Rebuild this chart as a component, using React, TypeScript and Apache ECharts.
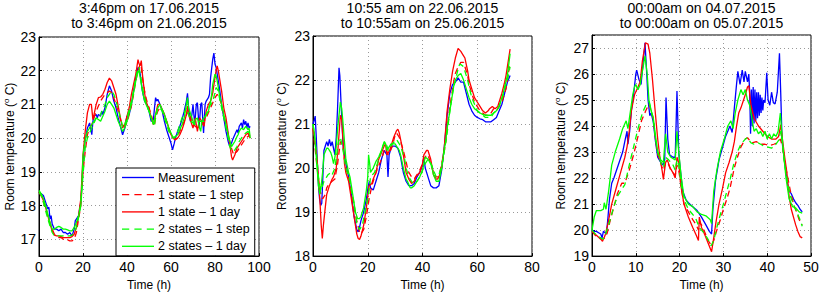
import React, { useEffect, useRef } from 'react';
import * as echarts from 'echarts';

type Pt = [number, number];

const seriesNames = ['Measurement', '1 state – 1 step', '1 state – 1 day', '2 states – 1 step', '2 states – 1 day'];
const seriesColors = ['#0000ff', '#ff0000', '#ff0000', '#00ff00', '#00ff00'];
const seriesDashed = [false, true, false, true, false];

const panelTitles = [
  '3:46pm on 17.06.2015\nto 3:46pm on 21.06.2015',
  '10:55 am on 22.06.2015\nto 10:55am on 25.06.2015',
  '00:00am on 04.07.2015\nto 00:00am on 05.07.2015',
];
const xMaxes = [100, 80, 50];
const xIntervals = [20, 20, 10];
const yMins = [16.5, 18, 19];
const yMaxes = [23, 23, 27.5];

// ---------- Panel 1 ----------
const p1Meas: Pt[] = [[0,18.4],[1,18.35],[2,18.3],[3,18.1],[4,17.9],[4.5,17.95],[5,17.6],[5.5,17.7],[6,17.45],[7,17.3],[8,17.3],[9,17.25],[10,17.3],[11,17.2],[12,17.2],[13,17.15],[14,17.2],[15,17.1],[16,17.3],[16.5,17.55],[17,17.6],[18,17.7],[19,18.1],[19.5,18.6],[20,19.3],[20.5,19.7],[21,19.95],[22,20.3],[23,20.45],[23.5,20.3],[24,20.1],[24.5,20.5],[25,20.65],[26,20.7],[26.5,20.6],[27,20.7],[28,20.65],[28.5,20.8],[29,20.7],[30,20.9],[31,21.3],[32,21.55],[33,21.4],[34,21.1],[35,20.9],[36,20.6],[37,20.35],[38,20.1],[39,20.3],[40,20.65],[41,20.7],[42,21.0],[43,21.4],[44,21.8],[45,22.1],[45.5,22.05],[46,21.9],[47,21.4],[48,21.1],[49,21.0],[50,20.8],[51,20.5],[52,20.55],[52.5,20.9],[53,21.2],[53.5,21.1],[54,21.15],[55,21.0],[56,20.8],[57,20.5],[58,20.25],[59,20.05],[60,19.85],[60.7,19.65],[61.5,19.85],[62,20.0],[63,20.2],[64,20.35],[65,20.55],[66,20.8],[67,21.1],[67.5,21.33],[68,20.9],[68.8,20.5],[69.5,20.7],[70,21.0],[70.8,20.4],[71.5,21.0],[72,21.05],[72.8,20.3],[73.5,21.0],[74,21.05],[74.8,20.15],[75.5,21.0],[76,21.1],[77,21.2],[77.5,21.3],[78,21.8],[79,22.35],[79.5,22.52],[80,22.2],[80.5,22.1],[81,21.9],[82,21.5],[83,21.0],[84,20.6],[85,20.2],[86,19.9],[86.7,19.75],[87.5,19.85],[88,19.95],[89,20.1],[90,20.25],[90.5,20.15],[91,20.35],[92,20.45],[92.5,20.3],[93,20.55],[93.5,20.4],[94,20.5],[94.5,20.3],[95,20.45],[95.5,20.3],[96,20.35]];
const p1Red1Step: Pt[] = [[0,18.4],[1,18.3],[2,18.1],[3,17.9],[4,17.7],[5,17.5],[6,17.3],[7,17.15],[8,17.1],[9,17.05],[10,17.05],[11,17.0],[12,17.0],[13,16.98],[14,16.95],[15,16.95],[16,17.0],[17,17.2],[18,17.6],[19,18.0],[19.5,18.5],[20,19.0],[21,19.6],[22,20.1],[23,20.3],[24,20.4],[25,20.6],[26,20.8],[27,20.95],[28,21.1],[29,21.2],[30,21.3],[31,21.35],[32,21.4],[33,21.35],[34,21.2],[35,21.0],[36,20.8],[37,20.55],[38,20.4],[39,20.35],[40,20.45],[41,20.7],[42,20.95],[43,21.3],[44,21.7],[45,22.0],[46,22.2],[46.5,22.1],[47,21.8],[48,21.4],[49,21.1],[50,20.9],[51,20.7],[52,20.45],[52.5,20.4],[53,20.6],[54,20.8],[55,20.9],[56,20.85],[57,20.7],[58,20.5],[59,20.3],[60,20.1],[61,20.0],[62,19.95],[63,20.05],[64,20.2],[65,20.35],[66,20.5],[67,20.7],[68,20.8],[69,20.6],[70,20.45],[71,20.35],[72,20.3],[73,20.35],[74,20.4],[75,20.5],[76,20.6],[77,20.75],[78,20.9],[79,21.05],[80,21.2],[81,21.3],[82,21.2],[83,21.0],[84,20.7],[85,20.4],[86,20.1],[87,19.8],[88,19.6],[88.5,19.5],[89,19.55],[90,19.6],[91,19.7],[92,19.8],[93,19.9],[94,20.0],[95,20.05],[96,20.1]];
const p1Red1Day: Pt[] = [[0,18.4],[1,18.3],[2,18.15],[3,17.95],[4,17.7],[5,17.45],[6,17.25],[7,17.12],[8,17.1],[9,17.1],[10,17.08],[11,17.05],[12,17.05],[13,17.05],[14,17.05],[15,17.08],[16,17.15],[17,17.35],[18,17.7],[19,18.2],[19.5,18.8],[20,19.5],[21,20.2],[22,20.75],[23,21.0],[23.8,21.0],[24.5,20.55],[25,20.7],[26,21.0],[27,21.2],[28,21.22],[29,21.3],[30,21.45],[31,21.65],[32,21.78],[33,21.7],[34,21.5],[35,21.3],[36,20.95],[37,20.6],[38,20.3],[39,20.4],[40,20.65],[41,20.9],[42,21.3],[43,21.6],[44,21.9],[45,22.33],[45.5,22.2],[46,22.15],[46.5,22.3],[47,21.9],[47.5,21.6],[48.5,21.1],[49.5,20.95],[50,20.9],[51,20.6],[52,20.4],[53,20.7],[54,21.0],[55,21.0],[56,20.85],[57,20.7],[58,20.5],[59,20.3],[60,20.1],[61,20.0],[62,19.95],[63,20.0],[64,20.1],[65,20.25],[66,20.45],[67,20.7],[67.5,20.95],[68,20.7],[69,20.5],[70,20.3],[71,20.6],[72,20.2],[73,20.6],[74,20.5],[75,20.35],[76,20.8],[77,21.0],[78,21.1],[79,21.35],[80,21.8],[80.5,22.0],[81,22.14],[81.5,22.0],[82,21.8],[83,21.4],[84,20.9],[85,20.6],[86,20.15],[87,19.7],[87.5,19.45],[88,19.35],[89,19.5],[90,19.7],[91,19.8],[92,19.9],[93,20.0],[94,20.1],[95,20.15],[96,20.0]];
const p1Green1Step: Pt[] = [[0,18.4],[1,18.3],[2,18.1],[3,17.85],[4,17.6],[5,17.4],[6,17.2],[7,17.1],[8,17.1],[9,17.1],[10,17.1],[11,17.1],[12,17.1],[13,17.1],[14,17.1],[15,17.12],[16,17.2],[17,17.35],[18,17.65],[19,18.05],[20,18.9],[20.5,19.3],[21,19.7],[22,20.0],[23,20.15],[24,20.3],[25,20.45],[26,20.6],[27,20.6],[28,20.7],[29,20.85],[30,21.0],[31,21.2],[32,21.3],[33,21.4],[34,21.3],[35,21.1],[36,20.85],[37,20.6],[38,20.35],[38.5,20.3],[39,20.4],[40,20.6],[41,20.85],[42,21.1],[43,21.4],[44,21.8],[45,22.05],[45.5,22.1],[46,21.9],[47,21.5],[48,21.2],[49,21.0],[50,20.8],[51,20.6],[52,20.45],[52.5,20.4],[53,20.6],[54,20.9],[55,20.9],[56,20.8],[57,20.6],[58,20.4],[59,20.2],[60,20.1],[61.5,20.0],[62,20.05],[63,20.2],[64,20.4],[65,20.6],[66,20.75],[67,20.9],[68,20.7],[69,20.5],[70,20.45],[71,20.4],[72,20.45],[73,20.5],[74,20.5],[75,20.5],[76,20.7],[77,20.9],[78,21.0],[79,21.1],[80,21.35],[80.5,21.5],[81,21.45],[81.5,21.4],[82,21.2],[83,20.9],[84,20.6],[85,20.3],[86,20.0],[86.5,19.8],[87,19.7],[88,19.6],[89,19.65],[90,19.75],[91,19.9],[92,20.0],[93,20.1],[94,20.15],[95,20.2],[96,20.1]];
const p1Green1Day: Pt[] = [[0,18.45],[1,18.35],[2,18.2],[3,18.0],[4,17.75],[5,17.5],[6,17.3],[7,17.3],[8,17.35],[9,17.38],[10,17.35],[11,17.3],[12,17.3],[13,17.28],[14,17.25],[15,17.25],[16,17.35],[17,17.5],[18,17.7],[19,18.0],[19.5,18.6],[20,19.5],[21,19.95],[21.5,20.1],[22,20.2],[23,20.3],[24,20.4],[25,20.5],[26,20.6],[27,20.55],[28,20.5],[29,20.65],[30,20.8],[31,21.0],[32,21.1],[33,21.0],[34,20.9],[35,20.7],[36,20.5],[37,20.35],[38,20.2],[39,20.3],[40,20.5],[41,20.75],[42,21.0],[43,21.35],[44,21.7],[45,22.0],[45.5,21.95],[46,21.8],[46.5,21.6],[47,21.4],[48,21.1],[49,20.95],[50,20.8],[51,20.6],[52,20.4],[53,20.7],[53.5,20.8],[54,20.9],[55,21.0],[56,20.85],[57,20.7],[58,20.5],[59,20.3],[60,20.15],[61,20.0],[62,20.05],[63,20.1],[64,20.25],[65,20.4],[66,20.6],[66.5,20.8],[67.5,21.2],[68,20.9],[69,20.7],[70,20.5],[70.5,20.4],[71,20.55],[72,20.6],[73,20.3],[73.5,20.2],[74,20.5],[75,20.6],[76,20.7],[77,20.8],[78,21.1],[78.5,21.3],[79,21.6],[80,21.9],[80.5,21.85],[81,21.7],[82,21.3],[83,21.0],[84,20.7],[85,20.4],[86,20.1],[87,19.85],[87.5,19.75],[88,19.8],[89,19.9],[90,20.05],[90.5,20.1],[91,20.2],[92,20.3],[93,20.25],[94,20.35],[95,20.25],[95.5,20.3],[96,20.0]];

// ---------- Panel 2 ----------
const p2Meas: Pt[] = [[0,21.0],[0.5,21.1],[0.8,21.18],[1.2,20.7],[1.6,20.1],[2,19.6],[2.4,19.3],[2.8,19.15],[3.2,19.2],[3.6,19.8],[4,20.4],[4.5,20.5],[5,20.6],[5.5,20.5],[6,20.65],[6.5,20.5],[7,20.6],[7.5,20.45],[8,20.3],[8.5,20.7],[9,21.4],[9.5,22.28],[9.8,22.1],[10.3,21.4],[11,20.5],[12,20.1],[13,19.8],[14,19.4],[15,18.9],[16,18.6],[16.5,18.55],[17,18.65],[17.5,18.8],[18.5,19.0],[19.5,19.3],[20.2,19.6],[20.6,19.7],[21,19.55],[22,19.5],[23,19.7],[24,19.9],[25,20.2],[26,20.4],[26.5,20.35],[27,20.3],[27.4,19.8],[27.8,20.3],[28.5,20.45],[29,20.5],[30,20.5],[31,20.45],[32,20.25],[33,19.9],[34,19.7],[35,19.6],[36,19.6],[37,19.65],[38,19.8],[39,19.9],[40,20.05],[40.5,20.25],[41,20.0],[42,19.8],[43,19.6],[44,19.55],[45,19.55],[46,19.6],[47,19.95],[48,20.5],[49,21.2],[50,21.7],[51,21.9],[52,21.95],[53,22.05],[54,21.95],[55,21.95],[56,21.7],[57,21.45],[58,21.3],[59,21.2],[60,21.15],[61,21.12],[62,21.1],[63,21.05],[64,21.05],[65,21.05],[66,21.1],[67,21.15],[68,21.3],[69,21.45],[70,21.7],[71,21.95],[72,22.1]];
const p2Red1Step: Pt[] = [[0,20.9],[1,20.3],[1.5,20.0],[2.5,19.5],[3.5,19.3],[4.5,19.4],[5,19.55],[6,19.65],[7,19.7],[8,19.75],[9,20.1],[10,20.6],[10.8,20.55],[11.5,20.2],[12,20.0],[13,19.8],[14,19.45],[15,19.1],[16,18.8],[17,18.55],[17.5,18.5],[18.5,18.6],[19.5,18.9],[20.5,19.3],[21.5,19.6],[22,19.7],[23,19.9],[24,20.05],[25,20.2],[26,20.4],[26.5,20.45],[27.5,20.3],[28,20.35],[29,20.5],[30,20.75],[30.5,20.8],[31.5,20.7],[32,20.6],[33,20.4],[34,20.15],[34.5,20.0],[35,19.9],[36,19.8],[37,19.75],[38,19.85],[38.5,19.9],[39,19.95],[40,20.1],[41,20.25],[41.5,20.3],[42,20.3],[43,20.1],[44,19.9],[44.5,19.8],[45,19.8],[46,19.8],[47,20.1],[48,20.4],[48.5,20.6],[49,20.9],[50,21.4],[51,21.8],[51.5,22.0],[52,22.15],[53,22.3],[54,22.4],[55,22.4],[55.5,22.3],[56.5,22.1],[57,21.9],[58,21.7],[59,21.5],[60,21.4],[61,21.3],[62,21.25],[63,21.2],[63.5,21.2],[64,21.2],[65,21.25],[66,21.35],[67,21.3],[68,21.4],[69,21.5],[70,21.7],[70.5,21.8],[71,22.0],[72,22.4]];
const p2Red1Day: Pt[] = [[0,20.9],[0.5,20.7],[1.5,20.2],[2.5,19.3],[3,18.7],[3.4,18.4],[3.8,18.7],[4.3,19.0],[5,19.4],[6,19.6],[7,19.75],[7.5,19.8],[8.5,20.0],[9.2,20.5],[10,21.2],[10.5,21.1],[10.8,20.8],[11.5,20.1],[12,19.9],[13,19.7],[14,19.3],[15,18.9],[16,18.5],[16.5,18.4],[17,18.38],[17.5,18.45],[18.5,18.7],[19.5,19.1],[20.5,19.6],[21.5,19.65],[22,19.75],[23,19.9],[24,20.2],[25,20.35],[26,20.5],[26.5,20.55],[27,20.3],[28,20.4],[29,20.6],[29.5,20.7],[30.5,20.85],[31,20.88],[31.5,20.8],[32.5,20.5],[33.5,20.1],[34,19.9],[35,19.75],[36,19.65],[37,19.7],[37.5,19.8],[39,19.9],[40,20.1],[40.5,20.3],[41.5,20.4],[42,20.4],[43,20.2],[44,19.85],[45,19.75],[45.5,19.75],[46,19.8],[47,20.0],[48,20.5],[49,21.3],[50,21.8],[50.5,22.0],[51,22.2],[52,22.5],[53,22.72],[54,22.65],[55,22.55],[55.5,22.5],[56.5,22.2],[57,22.0],[58,21.8],[59,21.6],[60,21.5],[61,21.4],[62,21.3],[63,21.25],[64,21.3],[64.5,21.35],[65.5,21.4],[66.5,21.35],[67.5,21.4],[68,21.5],[69,21.7],[70,21.95],[70.5,22.1],[71,22.3],[72,22.7]];
const p2Green1Step: Pt[] = [[0,21.0],[1,20.5],[2,19.8],[2.5,19.6],[3,19.5],[4,19.7],[5,19.8],[5.5,19.85],[6.5,19.9],[7,19.85],[8,20.0],[9.3,20.6],[10,20.7],[11,20.4],[12,20.0],[13,19.8],[13.5,19.7],[14,19.5],[15,19.2],[16,18.75],[17,18.6],[18,18.7],[19,19.0],[20,19.3],[20.5,19.5],[21,19.8],[22.5,19.9],[23,20.0],[24,20.2],[25,20.4],[25.5,20.5],[26.3,20.6],[27,20.5],[27.5,20.4],[28,20.45],[29,20.55],[30.5,20.65],[31,20.6],[32,20.5],[33,20.3],[33.5,20.2],[34,20.0],[35,19.8],[36,19.7],[36.5,19.65],[37,19.65],[38,19.7],[39,19.8],[39.5,19.85],[40,19.95],[41,20.1],[42,20.2],[43,20.1],[43.5,20.05],[44,19.95],[45,19.8],[46,19.85],[47,20.05],[47.5,20.2],[48,20.4],[49,20.8],[50,21.3],[50.5,21.5],[51,21.7],[52,22.0],[53,22.25],[53.5,22.35],[54,22.35],[55,22.3],[56,22.1],[56.5,22.0],[57,21.85],[58,21.6],[59,21.45],[60,21.3],[61,21.25],[62,21.2],[63,21.15],[64,21.15],[65,21.15],[65.5,21.2],[66,21.25],[67,21.3],[68,21.4],[68.5,21.5],[69,21.55],[70,21.8],[71,22.0],[72,22.3]];
const p2Green1Day: Pt[] = [[0,21.0],[0.5,20.8],[1,20.4],[1.5,20.0],[2,19.6],[2.5,19.4],[3,19.6],[3.5,19.9],[4,20.3],[5,20.45],[5.5,20.45],[6,20.4],[6.5,20.35],[7,20.25],[7.5,20.1],[8,20.25],[8.5,20.5],[9,20.9],[9.5,21.2],[10,21.5],[10.5,21.35],[11,21.0],[12,20.2],[13,19.9],[13.5,19.8],[14.5,19.4],[15.5,19.0],[16.3,18.85],[17,18.85],[17.5,18.9],[18.5,19.1],[19.5,19.5],[20,19.8],[20.3,20.3],[20.7,20.1],[21,19.9],[22,20.0],[23,20.15],[23.5,20.2],[24,20.25],[25,20.4],[26,20.6],[26.5,20.55],[27,20.4],[28,20.5],[28.5,20.55],[29,20.55],[30,20.55],[31,20.45],[31.5,20.4],[32,20.3],[33,20.0],[34,19.75],[34.5,19.7],[35.5,19.55],[36,19.55],[37,19.6],[38,19.7],[38.5,19.75],[39,19.8],[40,19.95],[41,20.25],[42,20.2],[43,20.1],[43.5,20.0],[44,19.85],[45,19.7],[46,19.7],[47,20.0],[48,20.45],[48.5,20.6],[49,20.9],[50,21.3],[51,21.7],[51.5,21.9],[52,22.0],[53,22.1],[54,22.15],[55,22.0],[55.5,21.9],[56,21.8],[57,21.6],[58,21.45],[59,21.35],[60,21.3],[61,21.25],[62,21.22],[63,21.2],[64,21.2],[65,21.2],[66,21.25],[67,21.3],[68,21.4],[69,21.6],[69.5,21.7],[70,21.85],[71,22.1],[72,22.6]];

// ---------- Panel 3 ----------
const p3Meas: Pt[] = [[0,20.0],[0.5,19.95],[1,19.95],[1.5,19.9],[2,19.85],[2.3,19.7],[2.6,19.95],[3,19.9],[3.3,19.85],[3.6,20.4],[4,21.2],[4.5,21.8],[5,22.0],[6,22.5],[7,23.0],[7.6,23.5],[8,23.8],[8.2,23.3],[8.6,23.8],[9,24.6],[9.5,25.2],[10,26.0],[10.2,26.15],[10.7,25.8],[11.2,25.6],[11.7,26.5],[12.1,27.2],[12.5,26.0],[12.8,25.0],[13.2,24.4],[13.5,24.5],[14,24.15],[14.5,23.4],[15,22.8],[15.7,22.6],[16.2,22.5],[16.6,22.7],[16.9,25.1],[17.3,23.5],[17.7,22.9],[18.5,22.8],[19,22.8],[19.4,25.35],[19.8,23.0],[20,22.6],[20.7,21.5],[21.5,21.15],[22,21.05],[23,20.9],[24,20.75],[25,20.5],[26,20.2],[26.8,19.95],[27.3,19.85],[27.6,20.8],[28.2,21.9],[29,22.7],[30,23.3],[30.5,23.6],[31.5,24.0],[32,23.75],[32.5,24.7],[33,25.6],[33.3,26.1],[33.8,25.6],[34.3,26.15],[34.7,25.7],[35,26.1],[35.5,25.7],[35.8,26.0],[36,25.3],[36.2,23.7],[36.4,25.4],[36.6,24.0],[36.8,25.5],[37.0,24.1],[37.2,25.4],[37.4,24.2],[37.6,25.3],[37.8,24.3],[38.0,25.3],[38.2,24.4],[38.4,25.2],[38.6,24.5],[38.8,25.1],[39.0,24.6],[39.2,25.0],[39.5,24.9],[39.9,26.05],[40.2,25.0],[40.6,24.8],[41.0,25.3],[41.4,24.9],[41.8,24.85],[42.3,25.3],[42.8,26.8],[43.1,25.2],[43.4,23.4],[44,22.6],[44.5,21.9],[45,21.5],[45.5,21.4],[46,21.2],[46.5,21.05],[47,20.95],[47.5,20.8],[48,20.7]];
const p3Red1Step: Pt[] = [[0,19.95],[1,19.75],[2.2,19.65],[3,19.7],[3.5,19.9],[4.2,20.4],[5,20.9],[5.8,21.4],[6.8,21.8],[7.5,21.8],[8.5,22.3],[9.5,22.9],[10.5,23.6],[11.3,24.2],[12.3,24.6],[13,24.85],[13.3,24.7],[14,24.3],[14.5,23.5],[15,22.9],[15.5,22.7],[16,22.4],[16.3,22.3],[16.8,22.6],[17.3,22.6],[18,22.3],[19,22.1],[19.4,22.5],[19.8,22.3],[20.5,21.5],[21,21.0],[22,20.7],[23,20.4],[23.8,20.2],[24.3,20.0],[24.5,20.3],[25,20.2],[25.8,19.9],[26.5,19.6],[27.3,19.4],[27.8,19.6],[28.5,20.0],[29.3,20.4],[30,20.8],[30.8,21.2],[31.5,21.6],[32,22.0],[32.5,22.4],[33.2,22.8],[34,23.2],[35,23.5],[35.5,23.55],[36.5,23.35],[37.5,23.4],[38.5,23.3],[39.5,23.3],[40.5,23.25],[41.5,23.3],[42.3,23.35],[43,23.5],[43.5,23.2],[44,22.6],[44.6,22.1],[45.3,21.5],[46,21.0],[46.7,20.7],[47.3,20.4],[48,20.2]];
const p3Red1Day: Pt[] = [[0,19.95],[1,19.8],[2,19.65],[2.4,19.57],[3,19.8],[3.7,20.3],[4.5,21.0],[5.5,21.6],[6.5,22.2],[7.5,22.8],[8,23.2],[8.5,23.8],[9,24.6],[9.7,25.2],[10.5,25.5],[11,25.7],[11.5,26.5],[12.2,27.2],[12.8,27.15],[13.2,26.8],[13.8,25.8],[14.3,24.8],[15,23.5],[15.5,22.8],[16,22.3],[16.3,21.95],[16.8,22.6],[17.2,22.7],[17.8,22.4],[18.5,22.2],[19,22.0],[19.4,22.8],[19.8,22.6],[20.3,21.7],[21,21.0],[22,20.5],[23,20.1],[23.8,19.8],[24.3,19.6],[24.5,20.5],[25,20.1],[25.8,19.8],[26.5,19.5],[27.3,19.17],[27.7,19.6],[28.3,20.3],[29,21.0],[29.8,21.6],[30.5,22.2],[31.3,22.6],[32,23.0],[32.5,23.4],[33,24.0],[33.5,24.5],[34,24.7],[34.6,25.0],[35,25.2],[35.5,25.5],[35.8,25.55],[36.3,24.8],[37,24.3],[38,24.0],[39,23.8],[40,23.6],[41,23.5],[42,23.5],[42.6,23.6],[43.1,24.05],[43.4,23.6],[44,22.8],[44.5,22.2],[45,21.3],[45.5,20.8],[46,20.5],[46.5,20.2],[47,19.95],[47.5,19.75],[48,19.7]];
const p3Green1Step: Pt[] = [[0,20.0],[1,19.8],[2,19.7],[2.5,19.65],[3,19.8],[3.8,20.2],[4.8,20.8],[5.8,21.3],[7.5,21.75],[8.5,22.5],[9.5,23.2],[10.5,23.9],[11.5,24.5],[12.3,24.8],[13,24.95],[13.5,24.6],[14,24.2],[14.5,23.5],[15,23.0],[15.7,22.6],[16.3,22.4],[16.8,22.8],[17.5,22.7],[18.5,22.5],[19,22.3],[19.4,22.7],[19.8,22.5],[20.5,21.6],[21.2,21.1],[22,20.8],[23,20.6],[23.8,20.4],[24.5,20.1],[25.5,19.9],[26.3,19.7],[27.2,19.4],[27.8,19.6],[28.5,20.1],[29.3,20.6],[30,21.0],[30.8,21.5],[31.6,22.0],[32.3,22.5],[33.2,23.0],[34,23.3],[35,23.5],[35.5,23.55],[36.3,23.35],[37,23.3],[38,23.35],[39,23.25],[40,23.2],[41,23.15],[42,23.3],[42.6,23.45],[43.1,23.8],[43.5,23.3],[44,22.5],[44.6,21.9],[45.3,21.3],[46.2,20.9],[47,20.6],[47.5,20.4],[48,20.15]];
const p3Green1Day: Pt[] = [[0,20.0],[0.5,20.5],[1,20.75],[2,20.75],[2.6,20.8],[2.8,21.05],[3.2,20.8],[3.8,21.5],[4.5,22.5],[5.3,23.0],[6.3,23.5],[7,23.9],[7.8,24.2],[8.2,23.9],[8.8,24.6],[9.3,25.2],[9.7,25.5],[10,25.6],[10.5,25.4],[11,25.6],[11.6,26.2],[12.1,26.7],[12.6,26.0],[13,25.0],[13.5,24.6],[14,24.3],[14.5,23.6],[15,23.0],[15.7,22.7],[16.3,22.6],[16.8,23.7],[17.3,23.0],[18,22.8],[19,22.7],[19.4,23.8],[19.8,23.0],[20.4,22.0],[21,21.3],[22,21.0],[23,20.9],[24,20.7],[25,20.6],[26,20.55],[27,20.4],[27.3,20.25],[27.8,21.5],[28.5,22.3],[29.3,23.0],[30.2,23.5],[31,24.0],[31.7,24.2],[32.2,23.9],[32.7,24.5],[33.3,25.0],[34,25.4],[34.5,25.2],[35,25.4],[35.5,25.0],[36,24.8],[36.5,24.3],[37,23.8],[37.5,23.9],[38,23.7],[38.5,23.8],[39,23.6],[39.5,23.8],[40,23.5],[40.5,23.7],[41,23.5],[41.5,23.7],[42,23.6],[42.5,23.8],[43,24.5],[43.3,23.8],[43.7,23.0],[44.3,22.0],[45,21.2],[45.8,20.9],[46.5,20.85],[47.3,20.7],[48,20.65]];

const panelData: Pt[][][] = [
  [p1Meas, p1Red1Step, p1Red1Day, p1Green1Step, p1Green1Day],
  [p2Meas, p2Red1Step, p2Red1Day, p2Green1Step, p2Green1Day],
  [p3Meas, p3Red1Step, p3Red1Day, p3Green1Step, p3Green1Day],
];

const FONT = '"Liberation Sans", Arial, Helvetica, sans-serif';
const grids = [
  { left: 39, top: 37, width: 220, height: 226 },
  { left: 313, top: 36, width: 219, height: 225 },
  { left: 592, top: 35, width: 219, height: 226 },
];
const yNameGaps = [22, 24, 24];

// legend sample shapes (a solid stroke, or three dashes), drawn as icon paths
const SOLID_ICON = 'path://M0,0H31V1.3H0Z';
const DASH_ICON = 'path://M0,0H7V1.3H0Z M12,0H19V1.3H12Z M24,0H31V1.3H24Z';

function buildOption(): any {
  const dotted = { show: true, lineStyle: { color: '#999', type: [1, 3] as any, width: 1 } };
  const title = grids.map((g, i) => ({
    text: panelTitles[i],
    left: g.left + g.width / 2,
    top: 0,
    textAlign: 'center',
    padding: 0,
    textStyle: { fontFamily: FONT, fontSize: 14, fontWeight: 'normal', color: '#000', lineHeight: 15.5 },
  }));
  const grid = grids.map((g) => ({ ...g, show: true, borderColor: '#000', borderWidth: 1, backgroundColor: '#fff', z: 0 }));
  const xAxis = grids.map((g, i) => ({
    type: 'value',
    gridIndex: i,
    min: 0,
    max: xMaxes[i],
    interval: xIntervals[i],
    name: 'Time (h)',
    nameLocation: 'middle',
    nameGap: 17,
    nameTextStyle: { fontFamily: FONT, fontSize: 12, color: '#000' },
    axisLine: { show: true, lineStyle: { color: '#000', width: 1 } },
    axisTick: { show: true, inside: true, length: 3, lineStyle: { color: '#000' } },
    axisLabel: { fontFamily: FONT, fontSize: 14, color: '#000', margin: 4 },
    splitLine: dotted,
  }));
  const yAxis = grids.map((g, i) => ({
    type: 'value',
    gridIndex: i,
    min: yMins[i],
    max: yMaxes[i],
    ...(i === 0 ? { splitNumber: 6 } : { interval: 1 }),
    name: 'Room temperature ({sup|o} C)',
    nameLocation: 'middle',
    nameRotate: 90,
    nameGap: yNameGaps[i],
    nameTextStyle: {
      fontFamily: FONT, fontSize: 12, color: '#000',
      rich: { sup: { fontFamily: FONT, fontSize: 8, color: '#000', padding: [0, 0, 7, 0] } },
    },
    axisLine: { show: true, lineStyle: { color: '#000', width: 1 } },
    axisTick: { show: true, inside: true, length: 3, lineStyle: { color: '#000' } },
    axisLabel: {
      fontFamily: FONT, fontSize: 14, color: '#000', margin: 3,
      formatter: (v: number) => (Math.abs(v - Math.round(v)) < 1e-6 ? String(Math.round(v)) : ''),
    },
    splitLine: dotted,
  }));
  const series: any[] = [];
  panelData.forEach((sets, pi) => {
    sets.forEach((data, si) => {
      series.push({
        type: 'line',
        name: seriesNames[si],
        xAxisIndex: pi,
        yAxisIndex: pi,
        data,
        symbol: 'none',
        showSymbol: false,
        smooth: false,
        clip: true,
        lineStyle: { color: seriesColors[si], width: 1.3, type: seriesDashed[si] ? [6, 4] : 'solid' },
        itemStyle: { color: seriesColors[si] },
        emphasis: { disabled: true },
        z: 2 + si,
      });
    });
  });
  return {
    animation: false,
    backgroundColor: '#fff',
    title,
    grid,
    xAxis,
    yAxis,
    legend: {
      data: seriesNames.map((n, i) => ({ name: n, icon: seriesDashed[i] ? DASH_ICON : SOLID_ICON })),
      orient: 'vertical',
      left: 116,
      top: 168,
      itemWidth: 32,
      itemHeight: 12,
      itemGap: 4.2,
      padding: [3, 5, 3, 6],
      backgroundColor: '#fff',
      borderColor: '#000',
      borderWidth: 1,
      borderRadius: 0,
      selectedMode: false,
      textStyle: { fontFamily: FONT, fontSize: 12.5, color: '#000', padding: [0, 0, 0, -1] },
      z: 10,
    },
    series,
  };
}

export default function App() {
  const ref = useRef<HTMLDivElement>(null);
  useEffect(() => {
    if (!ref.current) return;
    const chart = echarts.init(ref.current, null, { renderer: 'svg' });
    chart.setOption(buildOption());
    return () => chart.dispose();
  }, []);
  return (
    <div
      ref={ref}
      style={{ position: 'fixed', left: 0, top: 0, width: 822, height: 296, background: '#fff' }}
    />
  );
}
